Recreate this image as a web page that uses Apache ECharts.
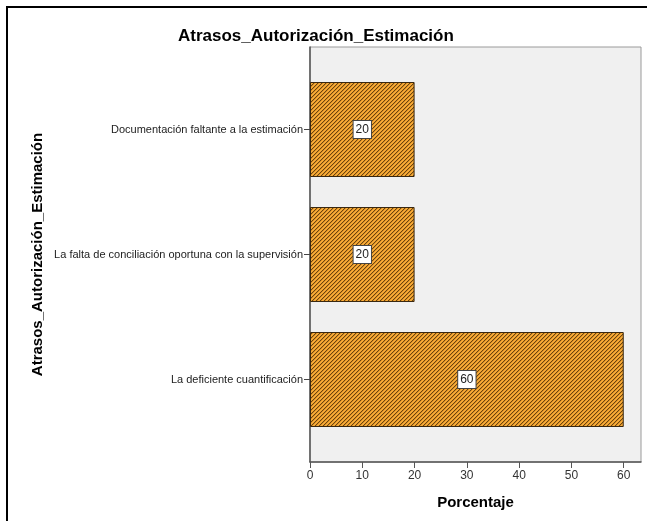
<!DOCTYPE html>
<html><head><meta charset="utf-8">
<script src="https://cdn.jsdelivr.net/npm/echarts@6/dist/echarts.min.js"></script>
<style>
html,body{margin:0;padding:0;background:#fff;}
#frame{position:absolute;left:6px;top:6px;width:641px;height:515px;border-top:2px solid #000;border-left:2px solid #000;box-sizing:border-box;}
#chart{position:absolute;left:0;top:0;width:647px;height:521px;}
</style></head>
<body>
<div id="frame"></div>
<div id="chart"></div>
<script>
const chartTitle = 'Atrasos_Autorización_Estimación';
const yAxisTitle = 'Atrasos_Autorización_Estimación';
const xAxisTitle = 'Porcentaje';
const categories = [
  'Documentación faltante a la estimación',
  'La falta de conciliación oportuna con la supervisión',
  'La deficiente cuantificación'
];
const percentValues = [20, 20, 60];
const xTicks = [0, 10, 20, 30, 40, 50, 60];
const xMax = 63.3;

function makePattern() {
  const c = document.createElement('canvas');
  c.width = 4; c.height = 4;
  const ctx = c.getContext('2d');
  const cols = ['#684411', '#dc8e20', '#f7ae3d', '#f0a231'];
  for (let x = 0; x < 4; x++) for (let y = 0; y < 4; y++) {
    ctx.fillStyle = cols[(x + y) % 4];
    ctx.fillRect(x, y, 1, 1);
  }
  return c;
}

const font = 'Arial, "Liberation Sans", sans-serif';
const chart = echarts.init(document.getElementById('chart'), null, {renderer: 'canvas'});
chart.setOption({
  animation: false,
  backgroundColor: 'transparent',
  textStyle: {fontFamily: font},
  title: {
    text: chartTitle, left: 173, top: 23,
    textStyle: {fontFamily: font, fontWeight: 'bold', fontSize: 17, color: '#000'}
  },
  grid: [
    {left: 310, top: 47, width: 331, height: 415, show: true, backgroundColor: '#f0f0f0', borderColor: '#9a9a9a', borderWidth: 1},
    {left: 310, top: 67, width: 331, height: 375, show: false}
  ],
  xAxis: [
    {
      gridIndex: 0, type: 'value', min: 0, max: xMax,
      name: xAxisTitle, nameLocation: 'middle', nameGap: 33,
      nameTextStyle: {fontFamily: font, fontWeight: 'bold', fontSize: 15, color: '#000'},
      axisLine: {show: true, lineStyle: {color: '#555', width: 1.5}},
      axisTick: {show: true, length: 6, lineStyle: {color: '#555'}, customValues: xTicks},
      axisLabel: {color: '#333', fontSize: 12, margin: 8, customValues: xTicks},
      splitLine: {show: false}
    },
    {gridIndex: 1, type: 'value', min: 0, max: xMax, show: false}
  ],
  yAxis: [
    {
      gridIndex: 0, type: 'value', min: 0, max: 1,
      name: yAxisTitle, nameLocation: 'middle', nameGap: 265, nameRotate: 90,
      nameTextStyle: {fontFamily: font, fontWeight: 'bold', fontSize: 15, color: '#000'},
      axisLine: {show: true, lineStyle: {color: '#555', width: 1.5}},
      axisTick: {show: false}, axisLabel: {show: false}, splitLine: {show: false}
    },
    {
      gridIndex: 1, type: 'category', inverse: true, data: categories,
      axisLine: {show: false},
      axisTick: {show: true, alignWithLabel: true, length: 6, lineStyle: {color: '#444'}},
      axisLabel: {color: '#222', fontSize: 11, margin: 7}
    }
  ],
  series: [{
    type: 'bar', xAxisIndex: 1, yAxisIndex: 1,
    data: percentValues,
    barCategoryGap: '24%',
    itemStyle: {color: {image: makePattern(), repeat: 'repeat'}, borderColor: '#3a2810', borderWidth: 1},
    label: {
      show: true, position: 'inside', formatter: '{c}',
      color: '#222', fontSize: 12, backgroundColor: '#fff',
      borderColor: '#444', borderWidth: 1, padding: [3, 2, 2, 2]
    }
  }]
});
</script>
</body></html>
